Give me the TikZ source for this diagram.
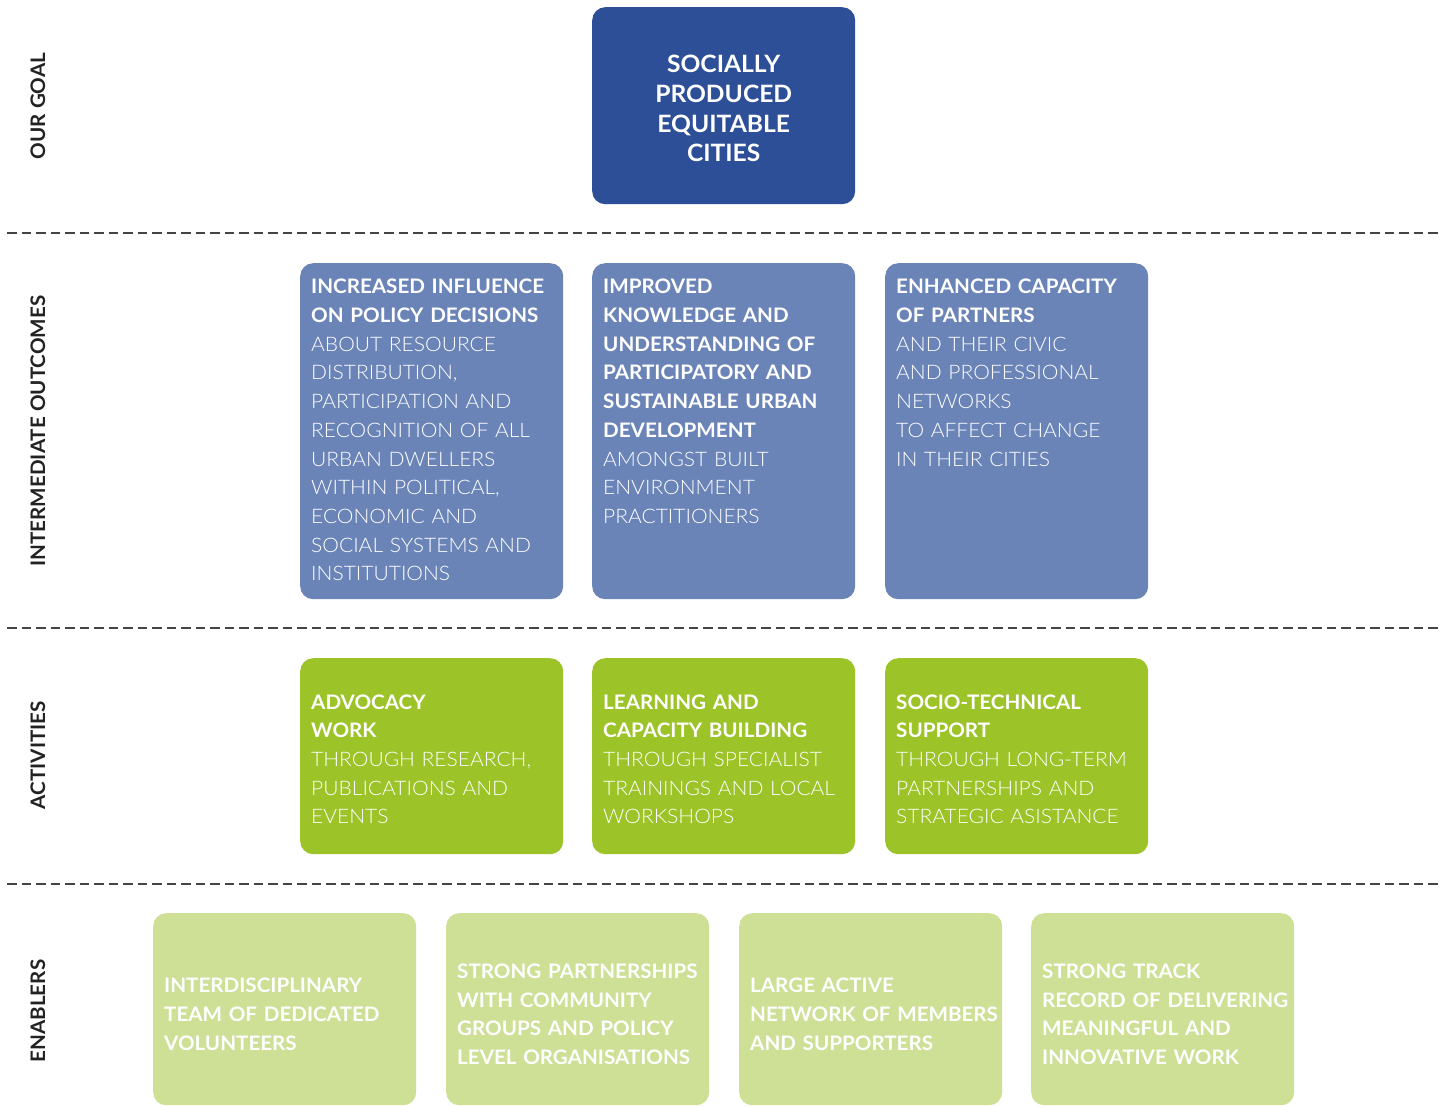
\documentclass[tikz,border=0pt]{standalone}
\usepackage{fontspec}
\setmainfont{Lato}[UprightFont=* Light, BoldFont=* Bold, UprightFeatures={FakeStretch=1.05}, BoldFeatures={FakeStretch=1.03}]
\definecolor{goalblue}{HTML}{2D4F97}
\definecolor{outblue}{HTML}{6B84B8}
\definecolor{actgreen}{HTML}{9CC328}
\definecolor{enagreen}{HTML}{CEDF96}
\definecolor{labgray}{HTML}{222222}
\definecolor{dashgray}{HTML}{444444}
\newcommand\nohyphs{\hyphenpenalty=10000\relax\exhyphenpenalty=10000\relax}
\tikzset{
  box/.style={rounded corners=13pt, inner sep=0pt, anchor=north west, minimum width=263pt},
  goalbox/.style={box, fill=goalblue, minimum height=197pt},
  outbox/.style={box, fill=outblue, minimum height=336pt},
  actbox/.style={box, fill=actgreen, minimum height=196pt},
  enabox/.style={box, fill=enagreen, minimum height=192pt},
  boxtext/.style={text=white, align=left, text width=241pt, inner sep=0pt,
    execute at begin node=\nohyphs,
    font=\fontsize{20}{28.7}\selectfont},
  goaltext/.style={boxtext, align=center, font=\fontsize{23.9}{29.6}\selectfont\bfseries},
  outtext/.style={boxtext, anchor=north west},
  enatext/.style={boxtext, text width=252pt, xshift=5.5pt, font=\fontsize{20}{28.7}\selectfont\bfseries},
  rowlabel/.style={rotate=90, text=labgray, font=\fontsize{20}{22}\selectfont\bfseries},
  sep/.style={draw=dashgray, line width=1.1pt, dash pattern=on 9.5pt off 5pt}
}
\begin{document}
\begin{tikzpicture}[x=1pt,y=-1pt]
\clip (0,0) rectangle (1453,1106);
\fill[white] (0,0) rectangle (1453,1106);

% row labels
\node[rowlabel] (lgoal) at (38,106) {OUR GOAL};
\node[rowlabel] (lout) at (38,431) {INTERMEDIATE OUTCOMES};
\node[rowlabel] (lact) at (38,755) {ACTIVITIES};
\node[rowlabel] (lena) at (38,1011) {ENABLERS};

% separators
\coordinate (s1a) at (7,233); \coordinate (s1b) at (1441,233);
\coordinate (s2a) at (7,628); \coordinate (s2b) at (1441,628);
\coordinate (s3a) at (7,884); \coordinate (s3b) at (1441,884);
\draw[sep] (s1a) -- (s1b);
\draw[sep] (s2a) -- (s2b);
\draw[sep] (s3a) -- (s3b);

% goal
\node[goalbox] (goal) at (592,7) {};
\node[goaltext] (goalt) at ([yshift=-3pt]goal.center) {SOCIALLY\\PRODUCED\\EQUITABLE\\CITIES};

% outcomes
\node[outbox] (o1) at (300,263) {};
\node[outbox] (o2) at (592,263) {};
\node[outbox] (o3) at (885,263) {};
\node[outtext] (o1t) at ([xshift=11pt,yshift=-16pt]o1.north west) {\textbf{INCREASED INFLUENCE}\\\textbf{ON POLICY DECISIONS}\\ABOUT RESOURCE\\DISTRIBUTION,\\PARTICIPATION AND\\RECOGNITION OF ALL\\URBAN DWELLERS\\WITHIN POLITICAL,\\ECONOMIC AND\\SOCIAL SYSTEMS AND\\INSTITUTIONS};
\node[outtext] (o2t) at ([xshift=11pt,yshift=-16pt]o2.north west) {\textbf{IMPROVED}\\\textbf{KNOWLEDGE AND}\\\textbf{UNDERSTANDING OF}\\\textbf{PARTICIPATORY AND}\\\textbf{SUSTAINABLE URBAN}\\\textbf{DEVELOPMENT}\\AMONGST BUILT\\ENVIRONMENT\\PRACTITIONERS};
\node[outtext] (o3t) at ([xshift=11pt,yshift=-16pt]o3.north west) {\textbf{ENHANCED CAPACITY}\\\textbf{OF PARTNERS}\\AND THEIR CIVIC\\AND PROFESSIONAL\\NETWORKS\\TO AFFECT CHANGE\\IN THEIR CITIES};

% activities
\node[actbox] (a1) at (300,658) {};
\node[actbox] (a2) at (592,658) {};
\node[actbox] (a3) at (885,658) {};
\node[boxtext] (a1t) at ([yshift=-3pt]a1.center) {\textbf{ADVOCACY}\\\textbf{WORK}\\THROUGH RESEARCH,\\PUBLICATIONS AND\\EVENTS};
\node[boxtext] (a2t) at ([yshift=-3pt]a2.center) {\textbf{LEARNING AND}\\\textbf{CAPACITY BUILDING}\\THROUGH SPECIALIST\\TRAININGS AND LOCAL\\WORKSHOPS};
\node[boxtext] (a3t) at ([yshift=-3pt]a3.center) {\textbf{SOCIO-TECHNICAL}\\\textbf{SUPPORT}\\THROUGH LONG-TERM\\PARTNERSHIPS AND\\STRATEGIC ASISTANCE};

% enablers
\node[enabox] (e1) at (153,913) {};
\node[enabox] (e2) at (446,913) {};
\node[enabox] (e3) at (739,913) {};
\node[enabox] (e4) at (1031,913) {};
\node[enatext] (e1t) at ([yshift=-5pt]e1.center) {INTERDISCIPLINARY\\TEAM OF DEDICATED\\VOLUNTEERS};
\node[enatext] (e2t) at ([yshift=-5pt]e2.center) {STRONG PARTNERSHIPS\\WITH COMMUNITY\\GROUPS AND POLICY\\LEVEL ORGANISATIONS};
\node[enatext] (e3t) at ([yshift=-5pt]e3.center) {LARGE ACTIVE\\NETWORK OF MEMBERS\\AND SUPPORTERS};
\node[enatext] (e4t) at ([yshift=-5pt]e4.center) {STRONG TRACK\\RECORD OF DELIVERING\\MEANINGFUL AND\\INNOVATIVE WORK};
\end{tikzpicture}
\end{document}
